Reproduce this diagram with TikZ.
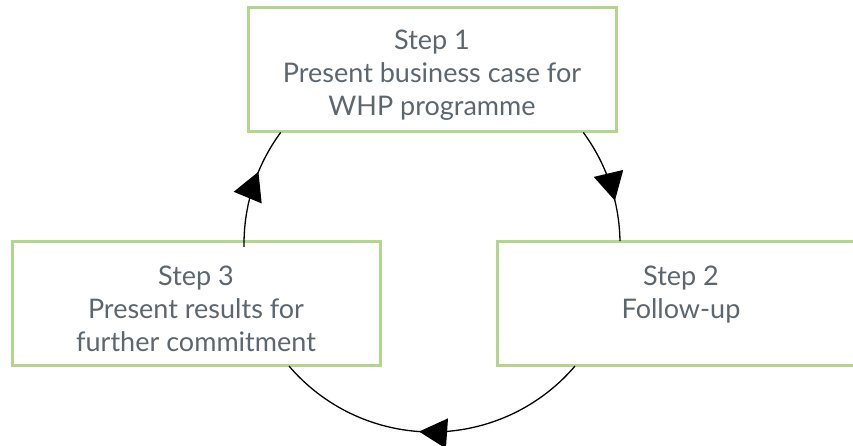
\documentclass[tikz,border=0pt]{standalone}
\usepackage{fontspec}
\setmainfont{Lato}
\usetikzlibrary{arrows.meta,decorations.markings}
\definecolor{boxgreen}{RGB}{178,214,140}
\definecolor{txtgrey}{RGB}{92,102,110}
\newcommand\toppad{\rule{0pt}{29.5pt}}
\begin{document}
\begin{tikzpicture}[x=1pt,y=-1pt,
  stepbox/.style={draw=boxgreen,line width=3pt,minimum width=368pt,minimum height=124pt,
    align=center,text=txtgrey,font=\fontsize{27}{33}\selectfont,inner sep=0pt},
  cyc/.style={line width=1.3pt,postaction={decorate}},
  tipmark/.style={decoration={markings,mark=at position #1 with {\arrow{Triangle[length=28pt,width=30pt]}}}}
]
\useasboundingbox (0,0) rectangle (853,446);
\node[stepbox] (s1) at (432,70) {\toppad Step 1\\Present business case for\\WHP programme};
\node[stepbox] (s3) at (196,303.5) {\toppad Step 3\\Present results for\\further commitment};
\node[stepbox] (s2) at (681,303.5) {\toppad Step 2\\Follow-up\\\mbox{}};
\coordinate (c) at (432,244);
\draw[cyc,tipmark=0.65] (c) ++(-36.4:188) arc[start angle=-36.4,end angle=-0.9,radius=188];
\draw[cyc,tipmark=0.54] (c) ++(40.5:188) arc[start angle=40.5,end angle=139.5,radius=188];
\draw[cyc,tipmark=0.63] (c) ++(179.1:188) arc[start angle=179.1,end angle=216.4,radius=188];
\end{tikzpicture}
\end{document}
